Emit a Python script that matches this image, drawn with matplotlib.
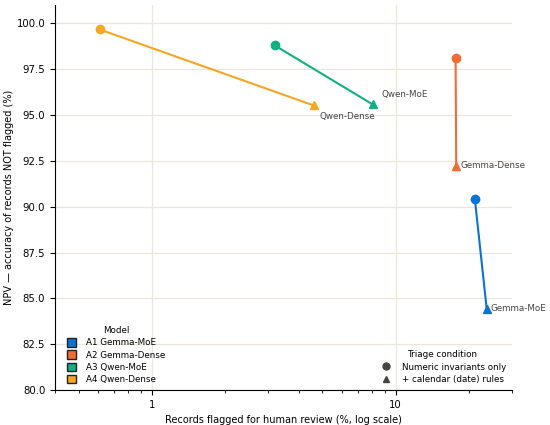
import numpy as np
import matplotlib.pyplot as plt
from matplotlib.patches import Patch
from matplotlib.lines import Line2D

models = ["A1 Gemma-MoE", "A2 Gemma-Dense", "A3 Qwen-MoE", "A4 Qwen-Dense"]
short = ["Gemma-MoE", "Gemma-Dense", "Qwen-MoE", "Qwen-Dense"]
colors = ["#0b72d6", "#f36c34", "#10b082", "#f5a623"]

# flagged % (x) and NPV (y): numeric only -> + calendar rules
flag_num = [21.1, 17.6, 3.19, 0.61]
npv_num = [90.45, 98.1, 98.8, 99.67]
flag_cal = [23.6, 17.7, 8.05, 4.6]
npv_cal = [84.45, 92.25, 95.58, 95.53]

# label offsets in points
offs = [(3, 0), (3, 0), (6, 7), (4, -8)]

fig, ax = plt.subplots(figsize=(5.5, 4.25), dpi=100)
fig.subplots_adjust(left=0.1, right=0.931, top=0.988, bottom=0.082)

for i in range(4):
    ax.plot([flag_num[i], flag_cal[i]], [npv_num[i], npv_cal[i]], color=colors[i], lw=1.5, zorder=2)
    ax.plot(flag_num[i], npv_num[i], "o", color=colors[i], ms=6, zorder=3)
    ax.plot(flag_cal[i], npv_cal[i], "^", color=colors[i], ms=6, zorder=3)
    ax.annotate(short[i], (flag_cal[i], npv_cal[i]), xytext=offs[i], textcoords="offset points",
                ha="left", va="center", fontsize=6.3, color="#444444")

ax.set_xscale("log")
ax.set_xlim(0.4, 30)
ax.set_ylim(80, 101)
ax.set_yticks(np.arange(80, 100.1, 2.5))
ax.set_xticks([1, 10])
ax.set_xticklabels(["1", "10"])
ax.grid(True, which="major", color="#ebe7df", lw=0.9)
ax.set_axisbelow(True)
ax.spines["top"].set_visible(False)
ax.spines["right"].set_visible(False)
ax.tick_params(labelsize=7.3)
ax.set_xlabel("Records flagged for human review (%, log scale)", fontsize=7)
ax.set_ylabel("NPV — accuracy of records NOT flagged (%)", fontsize=7)
ax.yaxis.set_label_coords(-0.09, 0.5)

h1 = [Patch(facecolor=c, edgecolor="#222222", label=m) for c, m in zip(colors, models)]
leg1 = ax.legend(handles=h1, title="Model", loc="lower left", bbox_to_anchor=(0.012, 0.0),
                 frameon=False, fontsize=6.3, title_fontsize=6.3, handlelength=1.1,
                 handleheight=1.1, handletextpad=1.1, borderaxespad=0.3, labelspacing=0.35)
ax.add_artist(leg1)
h2 = [Line2D([], [], marker="o", ls="", color="#444444", ms=5, label="Numeric invariants only"),
      Line2D([], [], marker="^", ls="", color="#444444", ms=5, label="+ calendar (date) rules")]
ax.legend(handles=h2, title="Triage condition", loc="lower right", frameon=False, fontsize=6.3,
          title_fontsize=6.3, borderaxespad=0.3, labelspacing=0.4)

plt.savefig("out.png")
